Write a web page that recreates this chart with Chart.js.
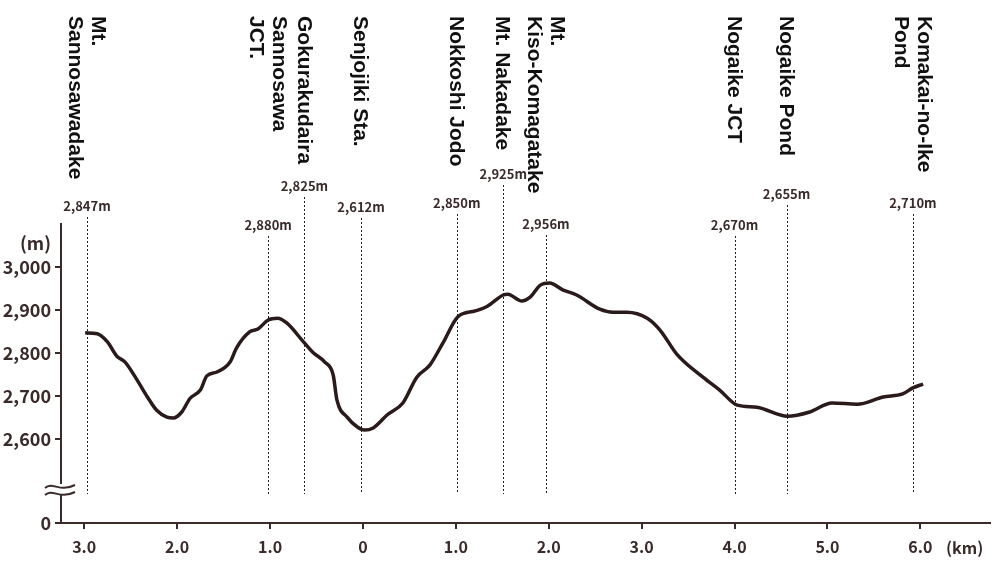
<!DOCTYPE html>
<html>
<head>
<meta charset="utf-8">
<script src="https://cdn.jsdelivr.net/npm/chart.js@4"></script>
<style>
  html, body { margin: 0; padding: 0; background: #fff; }
  #wrap { width: 1000px; height: 573px; }
</style>
</head>
<body>
<div id="wrap"><canvas id="profileChart"></canvas></div>
<script>
// distance along the route (km, negative = west of Senjojiki Sta.) and elevation (m)
const distances = [
  -2.99, -2.86, -2.75, -2.65, -2.56, -2.43, -2.32, -2.22, -2.11, -2.04,
  -1.95, -1.86, -1.75, -1.68, -1.57, -1.43, -1.36, -1.22, -1.13, -1.02,
  -0.92, -0.82, -0.64, -0.54, -0.41, -0.32, -0.28, -0.17, -0.06, 0.02,
  0.11, 0.26, 0.43, 0.58, 0.72, 0.86, 1.02, 1.21, 1.34, 1.51,
  1.56, 1.71, 1.80, 1.91, 2.01, 2.15, 2.30, 2.55, 2.69, 2.84,
  3.06, 3.20, 3.38, 3.66, 3.84, 4.03, 4.24, 4.57, 4.81, 5.05,
  5.32, 5.60, 5.81, 5.92, 6.03
];
const elevations = [
  2847, 2845, 2826, 2793, 2779, 2737, 2698, 2667, 2651, 2649,
  2663, 2695, 2714, 2747, 2756, 2779, 2812, 2849, 2856, 2877,
  2881, 2870, 2826, 2802, 2779, 2749, 2691, 2651, 2628, 2621,
  2626, 2656, 2684, 2744, 2772, 2823, 2884, 2898, 2909, 2935,
  2937, 2921, 2930, 2958, 2963, 2947, 2935, 2902, 2895, 2895,
  2881, 2853, 2797, 2744, 2714, 2679, 2674, 2653, 2663, 2684,
  2681, 2698, 2705, 2719, 2728
];

// points of interest
const spotNames = [
  ['Mt.', 'Sannosawadake'], ['Sannosawa', 'JCT.'], ['Gokurakudaira'], ['Senjojiki Sta.'],
  ['Nokkoshi Jodo'], ['Mt. Nakadake'], ['Mt.', 'Kiso-Komagatake'], ['Nogaike JCT'],
  ['Nogaike Pond'], ['Komakai-no-Ike', 'Pond']
];
const spotKm = [-2.97, -1.02, -0.63, -0.02, 1.01, 1.51, 1.97, 4.0, 4.56, 5.92];
const spotElev = [2847, 2880, 2825, 2612, 2850, 2925, 2956, 2670, 2655, 2710];

const xTicks = [-3, -2, -1, 0, 1, 2, 3, 4, 5, 6];
const yTicks = [2600, 2700, 2800, 2900, 3000];
const yZero = 2405; // where "0" sits below the axis break

// layout: screen y of each elevation label (staggered like the original)
const elevLabelY = [206, 225, 186, 207, 203, 174, 224, 225, 194, 203];

const ink = '#3a2a2a';
const curveColor = '#2a1a1a';

const spotsPlugin = {
  id: 'spots',
  beforeDatasetsDraw(chart) {
    const { ctx, scales: { x } } = chart;
    ctx.save();
    ctx.strokeStyle = '#222';
    ctx.lineWidth = 1;
    ctx.setLineDash([2, 2]);
    spotKm.forEach((km, i) => {
      const px = Math.round(x.getPixelForValue(km)) + 0.5;
      ctx.beginPath();
      ctx.moveTo(px, elevLabelY[i] + 11);
      ctx.lineTo(px, 494);
      ctx.stroke();
    });
    ctx.restore();
  },
  afterDraw(chart) {
    const { ctx, scales: { x } } = chart;
    ctx.save();
    // place names, rotated
    ctx.fillStyle = '#111';
    ctx.font = 'bold 21px "Liberation Sans", Arial, sans-serif';
    ctx.textAlign = 'left';
    ctx.textBaseline = 'middle';
    spotNames.forEach((lines, i) => {
      const px = x.getPixelForValue(spotKm[i]);
      ctx.save();
      ctx.translate(px, 16);
      ctx.rotate(Math.PI / 2);
      const lh = 23;
      lines.forEach((ln, j) => {
        ctx.fillText(ln, 0, (j - (lines.length - 1) / 2) * lh + 1);
      });
      ctx.restore();
    });
    // elevations
    ctx.fillStyle = ink;
    ctx.font = 'bold 13px "Noto Sans CJK JP", sans-serif';
    ctx.textAlign = 'center';
    spotElev.forEach((el, i) => {
      const px = x.getPixelForValue(spotKm[i]);
      ctx.fillText(el.toLocaleString('en-US') + 'm', px, elevLabelY[i]);
    });
    // axis units
    ctx.font = 'bold 18px "Noto Sans CJK JP", sans-serif';
    ctx.textAlign = 'right';
    ctx.fillText('(m)', 51, 243);
    ctx.font = 'bold 16px "Noto Sans CJK JP", sans-serif';
    ctx.textAlign = 'left';
    ctx.fillText('(km)', 946, 548);
    // axis break mark
    const ax = chart.chartArea.left;
    ctx.fillStyle = '#fff';
    ctx.fillRect(ax - 3, 484, 6, 11);
    ctx.strokeStyle = ink;
    ctx.lineWidth = 2;
    [486, 493].forEach(yy => {
      ctx.beginPath();
      ctx.moveTo(ax - 16, yy + 2);
      ctx.bezierCurveTo(ax - 8, yy - 5, ax - 2, yy + 7, ax + 14, yy - 1);
      ctx.stroke();
    });
    ctx.restore();
  }
};

new Chart(document.getElementById('profileChart'), {
  type: 'line',
  data: {
    datasets: [{
      data: distances.map((d, i) => ({ x: d, y: elevations[i] })),
      borderColor: curveColor,
      borderWidth: 3.5,
      pointRadius: 0,
      cubicInterpolationMode: 'monotone',
      fill: false
    }]
  },
  options: {
    responsive: true,
    maintainAspectRatio: false,
    animation: false,
    layout: { padding: { top: 224, right: 10, left: 0, bottom: 0 } },
    plugins: { legend: { display: false }, tooltip: { enabled: false } },
    scales: {
      x: {
        type: 'linear',
        min: -3.25,
        max: 6.75,
        afterBuildTicks: s => { s.ticks = xTicks.map(v => ({ value: v })); },
        afterFit: s => { s.height = 50; },
        grid: { drawOnChartArea: false, drawTicks: true, tickLength: 6, color: ink, lineWidth: 2 },
        border: { display: true, color: ink, width: 2 },
        ticks: {
          color: ink,
          padding: 8,
          maxRotation: 0,
          font: { family: '"Noto Sans CJK JP", sans-serif', size: 16, weight: 'bold' },
          callback: v => v === 0 ? '0' : Math.abs(v).toFixed(1)
        }
      },
      y: {
        min: yZero,
        max: 3100,
        afterBuildTicks: s => { s.ticks = [yZero].concat(yTicks).map(v => ({ value: v })); },
        afterFit: s => { s.width = 61; },
        grid: { drawOnChartArea: false, drawTicks: true, tickLength: 6, color: ink, lineWidth: 2 },
        border: { display: true, color: ink, width: 2 },
        ticks: {
          color: ink,
          padding: 4,
          font: { family: '"Noto Sans CJK JP", sans-serif', size: 18, weight: 'bold' },
          callback: v => v === yZero ? '0' : v.toLocaleString('en-US')
        }
      }
    }
  },
  plugins: [spotsPlugin]
});
</script>
</body>
</html>
